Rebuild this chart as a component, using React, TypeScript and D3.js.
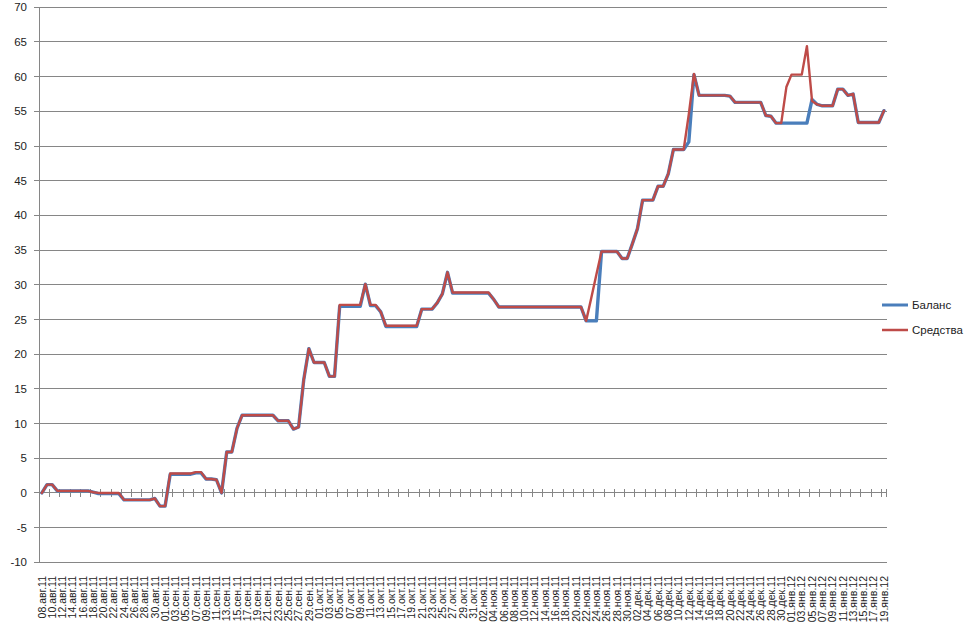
import React from "react";
import * as d3 from "d3";

const monthsRu = ["янв", "фев", "мар", "апр", "май", "июн", "июл", "авг", "сен", "окт", "ноя", "дек"];
const startDate = new Date(2011, 7, 8);
const endDate = new Date(2012, 0, 20);
const categories: string[] = d3.timeDay.range(startDate, endDate).map((d) => {
  const dd = String(d.getDate()).padStart(2, "0");
  const yy = String(d.getFullYear()).slice(2);
  return `${dd}.${monthsRu[d.getMonth()]}.${yy}`;
});

// Баланс (blue)
const balance: number[] = [
  0, 1.2, 1.2, 0.3, 0.3, 0.3, 0.3, 0.3, 0.3, 0.3,
  0.1, -0.1, -0.1, -0.1, -0.1, -0.1, -1.0, -1.0, -1.0, -1.0,
  -1.0, -1.0, -0.8, -1.9, -1.9, 2.7, 2.7, 2.7, 2.7, 2.7,
  2.9, 2.9, 2.0, 2.0, 1.9, 0.0, 5.9, 5.9, 9.3, 11.2,
  11.2, 11.2, 11.2, 11.2, 11.2, 11.2, 10.4, 10.4, 10.4, 9.2,
  9.5, 16.3, 20.8, 18.8, 18.8, 18.8, 16.8, 16.8, 26.9, 26.9,
  26.9, 26.9, 26.9, 30.1, 27.0, 27.0, 26.1, 24.0, 24.0, 24.0,
  24.0, 24.0, 24.0, 24.0, 26.5, 26.5, 26.5, 27.4, 28.7, 31.8,
  28.8, 28.8, 28.8, 28.8, 28.8, 28.8, 28.8, 28.8, 27.9, 26.8,
  26.8, 26.8, 26.8, 26.8, 26.8, 26.8, 26.8, 26.8, 26.8, 26.8,
  26.8, 26.8, 26.8, 26.8, 26.8, 26.8, 24.8, 24.8, 24.8, 34.8,
  34.8, 34.8, 34.8, 33.8, 33.8, 35.9, 38.1, 42.2, 42.2, 42.2,
  44.2, 44.2, 46.0, 49.5, 49.5, 49.5, 50.6, 60.3, 57.3, 57.3,
  57.3, 57.3, 57.3, 57.3, 57.2, 56.3, 56.3, 56.3, 56.3, 56.3,
  56.3, 54.4, 54.3, 53.3, 53.3, 53.3, 53.3, 53.3, 53.3, 53.3,
  56.7, 56.0, 55.8, 55.8, 55.8, 58.2, 58.2, 57.3, 57.5, 53.4,
  53.4, 53.4, 53.4, 53.4, 55.1,
];

// Средства (red)
const funds: number[] = [
  0, 1.2, 1.2, 0.3, 0.3, 0.3, 0.3, 0.3, 0.3, 0.3,
  0.1, 0.0, 0.0, 0.0, 0.0, 0.0, -1.0, -1.0, -1.0, -1.0,
  -1.0, -1.0, -0.8, -1.9, -1.9, 2.8, 2.8, 2.8, 2.8, 2.8,
  3.0, 3.0, 2.0, 2.0, 1.9, 0.0, 5.9, 5.9, 9.3, 11.2,
  11.2, 11.2, 11.2, 11.2, 11.2, 11.2, 10.4, 10.4, 10.4, 9.2,
  9.5, 16.3, 20.8, 18.8, 18.8, 18.8, 16.8, 16.8, 27.1, 27.1,
  27.1, 27.1, 27.1, 30.1, 27.1, 27.1, 26.1, 24.1, 24.1, 24.1,
  24.1, 24.1, 24.1, 24.1, 26.5, 26.5, 26.5, 27.4, 28.7, 31.8,
  28.9, 28.9, 28.9, 28.9, 28.9, 28.9, 28.9, 28.9, 27.9, 26.8,
  26.8, 26.8, 26.8, 26.8, 26.8, 26.8, 26.8, 26.8, 26.8, 26.8,
  26.8, 26.8, 26.8, 26.8, 26.8, 26.8, 24.8, 28.1, 31.5, 34.8,
  34.8, 34.8, 34.8, 33.8, 33.8, 35.9, 38.1, 42.2, 42.2, 42.2,
  44.2, 44.2, 46.0, 49.5, 49.5, 49.5, 54.6, 60.4, 57.3, 57.3,
  57.3, 57.3, 57.3, 57.3, 57.2, 56.3, 56.3, 56.3, 56.3, 56.3,
  56.3, 54.4, 54.3, 53.3, 53.3, 58.5, 60.3, 60.3, 60.3, 64.4,
  56.5, 56.0, 55.8, 55.8, 55.8, 58.2, 58.2, 57.3, 57.5, 53.4,
  53.4, 53.4, 53.4, 53.4, 55.1,
];

const yTicks: number[] = [-10, -5, 0, 5, 10, 15, 20, 25, 30, 35, 40, 45, 50, 55, 60, 65, 70];
const seriesNames = ["Баланс", "Средства"];
const seriesColors = ["#4A7EBB", "#BE4B48"];

const W = 974;
const H = 636;
const left = 39.3;
const right = 886.5;
const top = 7.3;
const bottom = 562.3;
const gridColor = "#868686";
const font = "'Liberation Sans', Arial, sans-serif";

export default function App() {
  const idx = categories.map((_, i) => i);
  const x = d3.scaleBand<number>().domain(idx).range([left, right]).padding(0);
  const bw = x.bandwidth();
  const cx = (i: number) => (x(i) as number) + bw / 2;
  const y = d3.scaleLinear().domain([-10, 70]).range([bottom, top]);
  const line = d3
    .line<number>()
    .x((_, i) => cx(i))
    .y((v) => y(v));

  const y0 = y(0);
  const tickIdx = idx.filter((i) => i % 2 === 0);

  return (
    <svg
      width={W}
      height={H}
      style={{ position: "absolute", left: 0, top: 0, background: "#fff" }}
      fontFamily={font}
    >
      <rect x={0} y={0} width={W} height={H} fill="#fff" />
      {/* gridlines */}
      {yTicks.map((t) => (
        <line key={t} x1={left} x2={right} y1={y(t)} y2={y(t)} stroke={gridColor} strokeWidth={1} shapeRendering="crispEdges" />
      ))}
      {/* y axis */}
      <line x1={left} x2={left} y1={top} y2={bottom} stroke={gridColor} strokeWidth={1} shapeRendering="crispEdges" />
      {yTicks.map((t) => (
        <g key={"yt" + t}>
          <line x1={left - 5} x2={left} y1={y(t)} y2={y(t)} stroke={gridColor} shapeRendering="crispEdges" />
          <text x={27} y={y(t)} dy="0.35em" textAnchor="end" fontSize={11.5} fill="#222">
            {t}
          </text>
        </g>
      ))}
      {/* x axis at zero with cross ticks */}
      <line x1={left} x2={right} y1={y0} y2={y0} stroke={gridColor} strokeWidth={1} shapeRendering="crispEdges" />
      {tickIdx.map((i) => (
        <line key={"xt" + i} x1={x(i) as number} x2={x(i) as number} y1={y0 - 4} y2={y0 + 4} stroke={gridColor} shapeRendering="crispEdges" />
      ))}
      <line x1={right} x2={right} y1={y0 - 4} y2={y0 + 4} stroke={gridColor} shapeRendering="crispEdges" />
      {/* x labels */}
      {tickIdx.map((i) => (
        <text
          key={"xl" + i}
          transform={`translate(${cx(i)},576) rotate(-90)`}
          dy="0.35em"
          textAnchor="end"
          fontSize={10.5}
          fill="#222"
        >
          {categories[i]}
        </text>
      ))}
      {/* series */}
      <path d={line(balance) || ""} fill="none" stroke={seriesColors[0]} strokeWidth={3.4} strokeLinejoin="round" strokeLinecap="round" />
      <path d={line(funds) || ""} fill="none" stroke={seriesColors[1]} strokeWidth={2.4} strokeLinejoin="round" strokeLinecap="round" />
      {/* legend */}
      {seriesNames.map((n, k) => (
        <g key={n} transform={`translate(0,${305 + k * 25})`}>
          <line x1={882} x2={908} y1={0} y2={0} stroke={seriesColors[k]} strokeWidth={k === 0 ? 3 : 2.5} />
          <text x={912} y={0} dy="0.35em" fontSize={11.5} fill="#222">
            {n}
          </text>
        </g>
      ))}
    </svg>
  );
}
